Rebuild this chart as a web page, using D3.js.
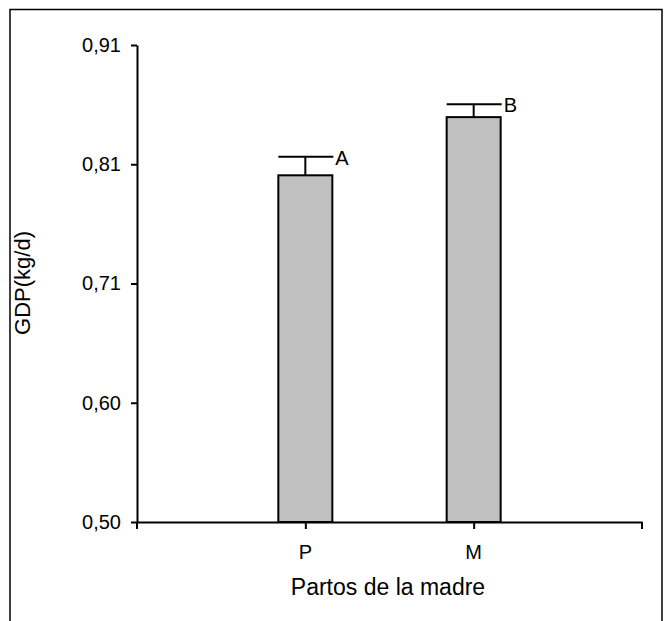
<!DOCTYPE html><html><head><script src="https://d3js.org/d3.v7.min.js"></script>
<style>body{margin:0;background:#fff}text{font-family:"Liberation Sans",Arial,sans-serif;fill:#000}</style></head><body>
<script>
const categories=["P","M"];
const means=[0.798,0.848];
const errs=[0.016,0.011];
const letters=["A","B"];
const yTicks=[0.50,0.6025,0.705,0.8075,0.91];
const yTickLabels=["0,50","0,60","0,71","0,81","0,91"];
const svg=d3.select("body").append("svg").attr("width",671).attr("height",621);
svg.append("rect").attr("x",10).attr("y",9.5).attr("width",652).attr("height",640).attr("fill","none").attr("stroke","#000").attr("stroke-width",1.5);
const x=d3.scalePoint().domain(categories).range([137,642]).padding(1);
const y=d3.scaleLinear().domain([0.5,0.91]).range([522,45]);
const g=svg.append("g");
const bw=54;
categories.forEach((c,i)=>{
  const cx=x(c);
  g.append("line").attr("x1",cx).attr("x2",cx).attr("y1",y(means[i])).attr("y2",y(means[i]+errs[i])).attr("stroke","#000").attr("stroke-width",2);
  g.append("line").attr("x1",cx-27).attr("x2",cx+28).attr("y1",y(means[i]+errs[i])).attr("y2",y(means[i]+errs[i])).attr("stroke","#000").attr("stroke-width",2);
  g.append("rect").attr("x",cx-bw/2).attr("y",y(means[i])).attr("width",bw).attr("height",y(0.5)-y(means[i])).attr("fill","#c0c0c0").attr("stroke","#000").attr("stroke-width",2);
  g.append("text").attr("x",cx+30).attr("y",y(means[i]+errs[i])+8).style("font-size","20px").text(letters[i]);
});
const ya=d3.axisLeft(y).tickValues(yTicks).tickFormat((d,i)=>yTickLabels[i]).tickSize(6).tickPadding(10).tickSizeOuter(0);
svg.append("g").attr("transform","translate(137,0)").call(ya).call(s=>{s.selectAll("text").style("font-size","20px").style("font-family","Liberation Sans, Arial");s.selectAll("line,path").attr("stroke-width",2);});
const xa=d3.axisBottom(x).tickSize(7).tickSizeOuter(0).tickFormat("");
svg.append("g").attr("transform","translate(0,522)").call(xa).call(s=>s.selectAll("line,path").attr("stroke-width",2));
svg.append("line").attr("x1",642).attr("x2",642).attr("y1",522).attr("y2",529).attr("stroke","#000").attr("stroke-width",2);
svg.append("line").attr("x1",137).attr("x2",137).attr("y1",522).attr("y2",529).attr("stroke","#000").attr("stroke-width",2);
categories.forEach(c=>svg.append("text").attr("x",x(c)).attr("y",559).attr("text-anchor","middle").style("font-size","20px").text(c));
svg.append("text").attr("x",388).attr("y",595).attr("text-anchor","middle").style("font-size","23px").text("Partos de la madre");
svg.append("text").attr("transform","translate(30,283) rotate(-90)").attr("text-anchor","middle").style("font-size","22px").text("GDP(kg/d)");
</script></body></html>
